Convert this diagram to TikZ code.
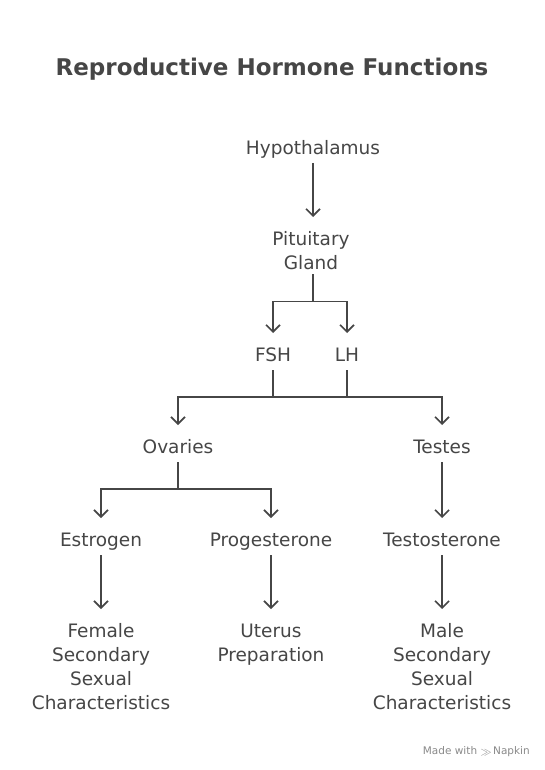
\documentclass[tikz,border=0pt]{standalone}
\usepackage{fontspec}
\setmainfont{DejaVu Sans}
\usetikzlibrary{arrows.meta,calc}
\definecolor{ink}{HTML}{464646}
\definecolor{mark}{HTML}{8A8A8A}
\begin{document}
\begin{tikzpicture}[x=1pt,y=1pt,
  lbl/.style={font=\fontsize{18.5}{24}\selectfont, text=ink, align=center, inner sep=0pt, outer sep=0pt},
  one/.style={lbl, text height=15.5pt, text depth=0.5pt},
  multi/.style={lbl, anchor=north},
  conn/.style={draw=ink, line width=1.6pt, shorten <=8pt},
  arr/.style={conn, -{Straight Barb[length=7pt,width=14pt,line width=1.6pt]}, shorten >=13pt},
  seg/.style={draw=ink, line width=1.6pt}]
\useasboundingbox (0,0) rectangle (544,-770);
\fill[white] (0,0) rectangle (544,-770);

\node[font=\bfseries\fontsize{23}{28}\selectfont, text=ink, inner sep=0pt] (title) at (272,-69) {Reproductive Hormone Functions};

\node[one] (hyp) at (313,-147) {Hypothalamus};
\node[multi] (pit) at (311,-231) {Pituitary\\Gland};
\node[one] (fsh) at (273,-354) {FSH};
\node[one] (lh) at (347,-354) {LH};
\node[one] (ov) at (178,-446) {Ovaries};
\node[one] (te) at (442,-446) {Testes};
\node[one] (est) at (101,-539) {Estrogen};
\node[one] (pro) at (271,-539) {Progesterone};
\node[one] (tst) at (442,-539) {Testosterone};
\node[multi] (fem) at (101,-623) {Female\\Secondary\\Sexual\\Characteristics};
\node[multi] (ut) at (271,-624) {Uterus\\Preparation};
\node[multi] (mal) at (442,-623) {Male\\Secondary\\Sexual\\Characteristics};

\node[font=\fontsize{10.5}{12}\selectfont, text=mark, anchor=east, inner sep=0pt] (wm) at (530,-752) {Made with \raisebox{-0.5pt}{$\gg$}\,Napkin};

% hypothalamus -> pituitary
\draw[arr, shorten >=14pt] (hyp.south) -- (hyp.south |- pit.north);

% pituitary -> FSH, LH
\coordinate (jp) at ($(hyp.south |- pit.south)+(0,-32)$);
\draw[conn, shorten <=5pt] (hyp.south |- pit.south) -- (jp);
\draw[arr, shorten <=0pt] (jp) -| (fsh.north);
\draw[arr, shorten <=0pt] (jp) -| (lh.north);

% FSH, LH -> ovaries, testes
\coordinate (jf) at ($(fsh.south)+(0,-35)$);
\coordinate (jl) at ($(lh.south)+(0,-35)$);
\draw[conn] (fsh.south) -- (jf);
\draw[conn] (lh.south) -- (jl);
\draw[arr, shorten <=0pt] (jf) -| (ov.north);
\draw[arr, shorten <=0pt] (jl) -| (te.north);
\draw[seg] (jf) -- (jl);

% ovaries -> estrogen, progesterone
\coordinate (jo) at ($(ov.south)+(0,-35)$);
\draw[conn] (ov.south) -- (jo);
\draw[arr, shorten <=0pt] (jo) -| (est.north);
\draw[arr, shorten <=0pt] (jo) -| (pro.north);

% testes -> testosterone
\draw[arr] (te.south) -- (tst.north);

% hormones -> effects
\draw[arr, shorten >=14pt] (est.south) -- (fem.north);
\draw[arr, shorten >=15pt] (pro.south) -- (ut.north);
\draw[arr, shorten >=14pt] (tst.south) -- (mal.north);
\end{tikzpicture}
\end{document}
